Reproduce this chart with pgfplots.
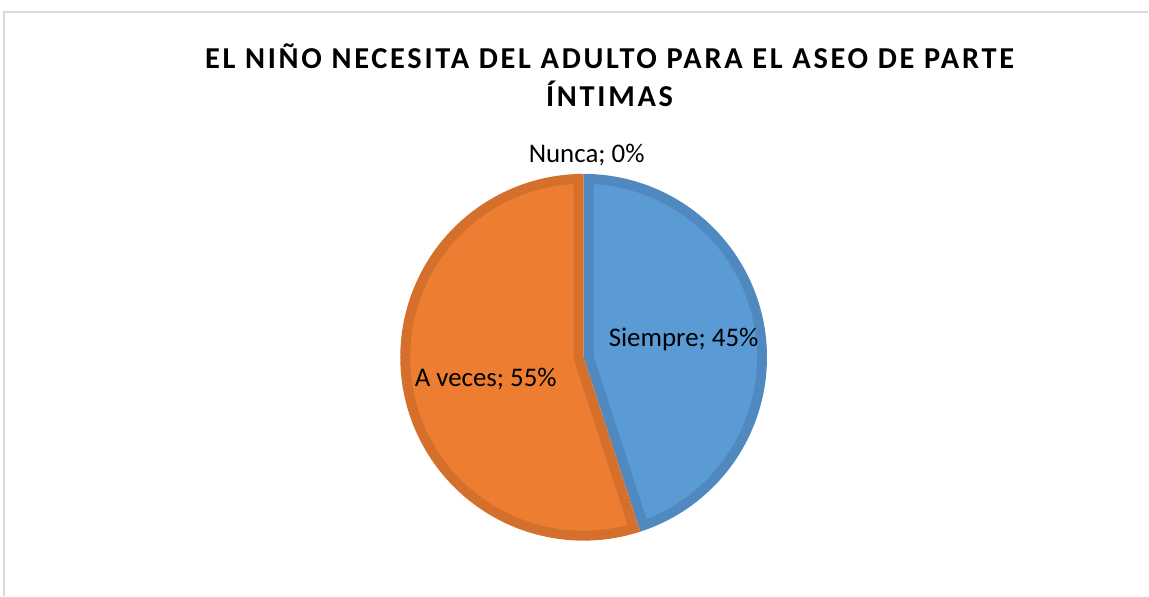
\documentclass[border=0pt]{standalone}
\usepackage{fontspec}
\setmainfont{Carlito}
\usepackage{pgfplots}
\pgfplotsset{compat=1.18}
\definecolor{sfill}{HTML}{5B9BD5}
\definecolor{sline}{HTML}{4F89C0}
\definecolor{afill}{HTML}{ED7D31}
\definecolor{aline}{HTML}{D5702C}
\definecolor{framec}{HTML}{D9D9D9}

% data (percent)
\def\vSiempre{45}
\def\vAveces{55}
\def\vNunca{0}
% geometry (pixel coordinates)
\def\cx{584}\def\cy{238.5}\def\R{183.5}\def\bw{10}
% Excel: start at 12 o'clock, clockwise
\pgfmathsetmacro{\sA}{90-3.6*\vSiempre}   % Siempre from \sA to 90
\pgfmathsetmacro{\aA}{90}                  % A veces from 90 to \aB (ccw)
\pgfmathsetmacro{\aB}{\sA+360-3.6*\vNunca}
\pgfmathsetmacro{\dl}{asin(\bw/(\R-\bw))}
\pgfmathsetmacro{\Ri}{\R-\bw}
% inset apex for each slice
\pgfmathsetmacro{\sMid}{(\sA+90)/2}
\pgfmathsetmacro{\sDist}{\bw/sin((90-\sA)/2)}
\pgfmathsetmacro{\sPx}{\cx+\sDist*cos(\sMid)}
\pgfmathsetmacro{\sPy}{\cy+\sDist*sin(\sMid)}
\pgfmathsetmacro{\aMid}{(\aA+\aB)/2}
\pgfmathsetmacro{\aDist}{\bw/sin((\aB-\aA)/2)}
\pgfmathsetmacro{\aPx}{\cx+\aDist*cos(\aMid)}
\pgfmathsetmacro{\aPy}{\cy+\aDist*sin(\aMid)}
\pgfmathsetmacro{\sAi}{\sA+\dl}
\pgfmathsetmacro{\sBi}{90-\dl}
\pgfmathsetmacro{\aAi}{\aA+\dl}
\pgfmathsetmacro{\aBi}{\aB-\dl}

\begin{document}
\begin{tikzpicture}
\begin{axis}[
  scale only axis, width=1149bp, height=596bp,
  xmin=0, xmax=1149, ymin=0, ymax=596,
  hide axis, clip=false,
]
\path (0,0) rectangle (1149,596);
\draw[framec, line width=1.5bp] (4,0) -- (4,584) -- (1149,584);

% Siempre
\addplot[draw=none, fill=sline, domain=\sA:90, samples=90, variable=\t]
  ({\cx+\R*cos(\t)},{\cy+\R*sin(\t)}) -- (\cx,\cy) -- cycle;
\addplot[draw=none, fill=sfill, domain=\sAi:\sBi, samples=90, variable=\t]
  ({\cx+\Ri*cos(\t)},{\cy+\Ri*sin(\t)}) -- (\sPx,\sPy) -- cycle;
% A veces
\addplot[draw=none, fill=aline, domain=\aA:\aB, samples=100, variable=\t]
  ({\cx+\R*cos(\t)},{\cy+\R*sin(\t)}) -- (\cx,\cy) -- cycle;
\addplot[draw=none, fill=afill, domain=\aAi:\aBi, samples=100, variable=\t]
  ({\cx+\Ri*cos(\t)},{\cy+\Ri*sin(\t)}) -- (\aPx,\aPy) -- cycle;

\node[anchor=base, font=\bfseries\fontsize{30.5}{36}\selectfont\addfontfeature{LetterSpace=9}] at (610,527.5) {EL NIÑO NECESITA DEL ADULTO PARA EL ASEO DE PARTE};
\node[anchor=base, font=\bfseries\fontsize{30.5}{36}\selectfont\addfontfeature{LetterSpace=9}] at (610,489.5) {ÍNTIMAS};

\node[font=\fontsize{27}{32}\selectfont] at (587,441) {Nunca; 0\%};
\node[font=\fontsize{27}{32}\selectfont] at (684,256) {Siempre; 45\%};
\node[font=\fontsize{27}{32}\selectfont] at (486,217) {A veces; 55\%};
\end{axis}
\end{tikzpicture}
\end{document}
